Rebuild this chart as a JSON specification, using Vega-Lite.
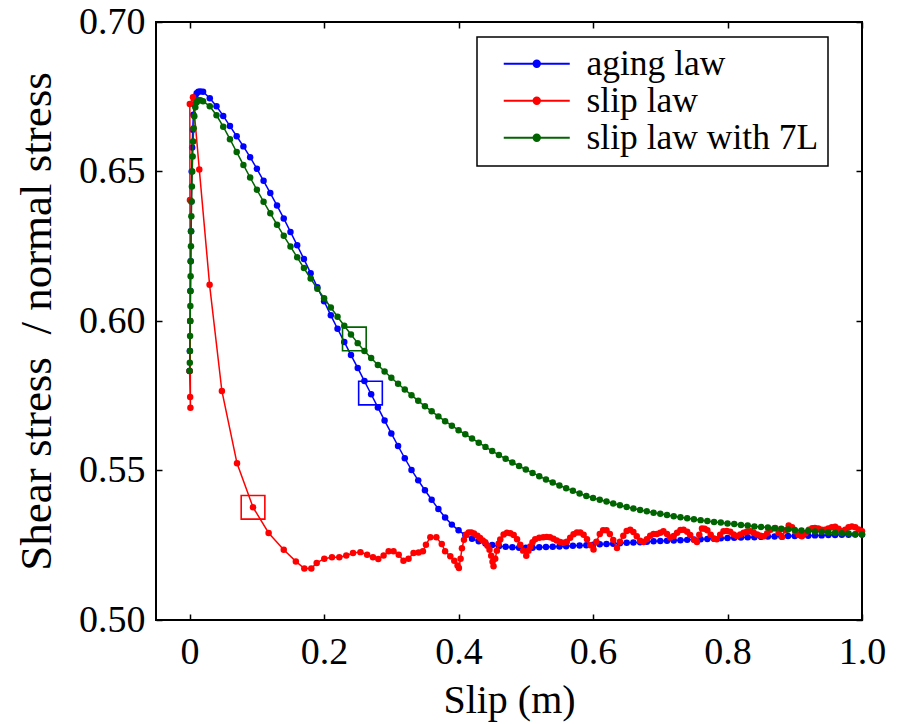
{
  "$schema": "https://vega.github.io/schema/vega-lite/v6.json",
  "autosize": {"type": "none"},
  "width": 706,
  "height": 598,
  "padding": {"left": 156, "top": 22, "right": 40, "bottom": 104},
  "background": "white",
  "datasets": {
    "aging": [
      {"x":0,"y":0.5833},{"x":0.0004,"y":0.59},{"x":0.0008,"y":0.6},{"x":0.0012,"y":0.61},{"x":0.0016,"y":0.62},{"x":0.002,"y":0.63},{"x":0.0025,"y":0.64},{"x":0.0031,"y":0.65},{"x":0.0038,"y":0.658},{"x":0.0046,"y":0.664},{"x":0.0056,"y":0.669},{"x":0.0068,"y":0.6725},{"x":0.0085,"y":0.675},{"x":0.0105,"y":0.6762},{"x":0.013,"y":0.6767},{"x":0.016,"y":0.6768},
      {"x":0.02,"y":0.6767},{"x":0.03,"y":0.6745},{"x":0.04,"y":0.6718},{"x":0.05,"y":0.6686},{"x":0.06,"y":0.6652},{"x":0.07,"y":0.6618},{"x":0.08,"y":0.6584},{"x":0.09,"y":0.6548},{"x":0.1,"y":0.6509},
      {"x":0.11,"y":0.6469},{"x":0.12,"y":0.6428},{"x":0.13,"y":0.6386},{"x":0.14,"y":0.6343},{"x":0.15,"y":0.6298},{"x":0.16,"y":0.6253},{"x":0.17,"y":0.6207},{"x":0.18,"y":0.616},{"x":0.19,"y":0.6113},{"x":0.2,"y":0.6066},
      {"x":0.21,"y":0.6019},{"x":0.22,"y":0.5974},{"x":0.23,"y":0.593},{"x":0.24,"y":0.5886},{"x":0.25,"y":0.5843},{"x":0.26,"y":0.5799},{"x":0.27,"y":0.5755},{"x":0.28,"y":0.5711},{"x":0.29,"y":0.5667},{"x":0.3,"y":0.5624},
      {"x":0.31,"y":0.5582},{"x":0.32,"y":0.5541},{"x":0.33,"y":0.5502},{"x":0.34,"y":0.5467},{"x":0.35,"y":0.5434},{"x":0.36,"y":0.5402},{"x":0.37,"y":0.5371},{"x":0.38,"y":0.5343},{"x":0.39,"y":0.5319},{"x":0.4,"y":0.53},
      {"x":0.41,"y":0.5284},{"x":0.42,"y":0.5272},{"x":0.43,"y":0.5263},{"x":0.44,"y":0.5256},{"x":0.45,"y":0.5251},{"x":0.46,"y":0.5247},{"x":0.47,"y":0.5245},{"x":0.48,"y":0.5243},{"x":0.49,"y":0.5242},{"x":0.5,"y":0.5242},
      {"x":0.51,"y":0.5242},{"x":0.52,"y":0.5243},{"x":0.53,"y":0.5244},{"x":0.54,"y":0.5245},{"x":0.55,"y":0.5246},{"x":0.56,"y":0.5247},{"x":0.57,"y":0.5248},{"x":0.58,"y":0.5249},{"x":0.59,"y":0.525},{"x":0.6,"y":0.5252},
      {"x":0.61,"y":0.5253},{"x":0.62,"y":0.5254},{"x":0.63,"y":0.5255},{"x":0.64,"y":0.5257},{"x":0.65,"y":0.5258},{"x":0.66,"y":0.5259},{"x":0.67,"y":0.526},{"x":0.68,"y":0.5262},{"x":0.69,"y":0.5263},{"x":0.7,"y":0.5264},
      {"x":0.71,"y":0.5265},{"x":0.72,"y":0.5266},{"x":0.73,"y":0.5267},{"x":0.74,"y":0.5268},{"x":0.75,"y":0.5269},{"x":0.76,"y":0.527},{"x":0.77,"y":0.5271},{"x":0.78,"y":0.5272},{"x":0.79,"y":0.5273},{"x":0.8,"y":0.5274},
      {"x":0.81,"y":0.5275},{"x":0.82,"y":0.5276},{"x":0.83,"y":0.5277},{"x":0.84,"y":0.5277},{"x":0.85,"y":0.5278},{"x":0.86,"y":0.5279},{"x":0.87,"y":0.5279},{"x":0.88,"y":0.528},{"x":0.89,"y":0.5281},{"x":0.9,"y":0.5281},
      {"x":0.91,"y":0.5282},{"x":0.92,"y":0.5282},{"x":0.93,"y":0.5283},{"x":0.94,"y":0.5283},{"x":0.95,"y":0.5284},{"x":0.96,"y":0.5284},{"x":0.97,"y":0.5285},{"x":0.98,"y":0.5285},{"x":0.99,"y":0.5286},{"x":1,"y":0.5286}
    ],
    "slip": [
      {"x":0,"y":0.5833},{"x":0.0008,"y":0.5746},{"x":0.0012,"y":0.571},{"x":0.0008,"y":0.6},{"x":0.0005,"y":0.6405},{"x":0.0003,"y":0.6726},{"x":0.005,"y":0.6748},{"x":0.0144,"y":0.6507},{"x":0.0297,"y":0.6121},{"x":0.048,"y":0.5766},{"x":0.0705,"y":0.5524},{"x":0.0943,"y":0.5377},
      {"x":0.1175,"y":0.5291},{"x":0.14,"y":0.5235},{"x":0.158,"y":0.5196},{"x":0.1706,"y":0.5172},{"x":0.181,"y":0.5172},{"x":0.189,"y":0.5191},{"x":0.2003,"y":0.5205},{"x":0.2117,"y":0.521},{"x":0.2226,"y":0.521},{"x":0.233,"y":0.5216},
      {"x":0.243,"y":0.5224},{"x":0.254,"y":0.5227},{"x":0.264,"y":0.5218},{"x":0.2727,"y":0.521},{"x":0.2806,"y":0.5204},{"x":0.2885,"y":0.5216},{"x":0.296,"y":0.523},{"x":0.3033,"y":0.523},{"x":0.311,"y":0.5218},{"x":0.318,"y":0.5198},
      {"x":0.3256,"y":0.5205},{"x":0.333,"y":0.5224},{"x":0.3405,"y":0.5226},{"x":0.347,"y":0.523},{"x":0.3515,"y":0.5252},{"x":0.358,"y":0.5277},{"x":0.367,"y":0.5277},{"x":0.375,"y":0.5254},{"x":0.38,"y":0.523},{"x":0.3877,"y":0.5213},
      {"x":0.3936,"y":0.5198},{"x":0.3985,"y":0.5182},{"x":0.4005,"y":0.5174},{"x":0.403,"y":0.5205},{"x":0.405,"y":0.524},{"x":0.408,"y":0.5268},{"x":0.411,"y":0.5285},{"x":0.415,"y":0.5293},{"x":0.419,"y":0.5293},{"x":0.423,"y":0.5289},
      {"x":0.428,"y":0.5282},{"x":0.432,"y":0.5274},{"x":0.436,"y":0.5266},{"x":0.4396,"y":0.526},{"x":0.443,"y":0.5248},{"x":0.446,"y":0.5235},{"x":0.4485,"y":0.5215},{"x":0.4505,"y":0.5195},{"x":0.452,"y":0.518},{"x":0.4545,"y":0.5205},
      {"x":0.457,"y":0.5232},{"x":0.4595,"y":0.5255},{"x":0.462,"y":0.5269},{"x":0.467,"y":0.5286},{"x":0.472,"y":0.5292},{"x":0.477,"y":0.529},{"x":0.482,"y":0.5284},{"x":0.487,"y":0.527},{"x":0.4917,"y":0.5252},{"x":0.496,"y":0.5232},
      {"x":0.5007,"y":0.5215},{"x":0.504,"y":0.5232},{"x":0.5066,"y":0.5246},{"x":0.51,"y":0.526},{"x":0.514,"y":0.527},{"x":0.52,"y":0.5275},{"x":0.526,"y":0.5277},{"x":0.531,"y":0.5278},{"x":0.536,"y":0.5277},{"x":0.541,"y":0.5272},
      {"x":0.546,"y":0.5266},{"x":0.551,"y":0.5261},{"x":0.556,"y":0.5258},{"x":0.561,"y":0.5262},{"x":0.566,"y":0.5275},{"x":0.571,"y":0.5287},{"x":0.576,"y":0.5293},{"x":0.581,"y":0.5293},{"x":0.586,"y":0.5285},{"x":0.591,"y":0.527},
      {"x":0.596,"y":0.525},{"x":0.6007,"y":0.5236},{"x":0.605,"y":0.5262},{"x":0.61,"y":0.5288},{"x":0.615,"y":0.53},{"x":0.62,"y":0.53},{"x":0.625,"y":0.5288},{"x":0.63,"y":0.5268},{"x":0.6356,"y":0.5241},{"x":0.64,"y":0.5262},
      {"x":0.645,"y":0.5282},{"x":0.65,"y":0.5298},{"x":0.6553,"y":0.5302},{"x":0.66,"y":0.5294},{"x":0.665,"y":0.528},{"x":0.67,"y":0.5265},{"x":0.675,"y":0.5261},{"x":0.68,"y":0.527},{"x":0.685,"y":0.5282},{"x":0.69,"y":0.5288},
      {"x":0.695,"y":0.5288},{"x":0.7,"y":0.5292},{"x":0.7047,"y":0.5297},{"x":0.71,"y":0.5288},{"x":0.7148,"y":0.5276},{"x":0.72,"y":0.5281},{"x":0.725,"y":0.5292},{"x":0.73,"y":0.5301},{"x":0.7346,"y":0.5302},{"x":0.74,"y":0.5295},
      {"x":0.7445,"y":0.5284},{"x":0.75,"y":0.5268},{"x":0.7545,"y":0.5261},{"x":0.758,"y":0.5285},{"x":0.762,"y":0.5306},{"x":0.766,"y":0.5305},{"x":0.77,"y":0.53},{"x":0.775,"y":0.5285},{"x":0.78,"y":0.5272},{"x":0.784,"y":0.527},
      {"x":0.789,"y":0.5285},{"x":0.794,"y":0.5297},{"x":0.799,"y":0.5298},{"x":0.804,"y":0.5295},{"x":0.809,"y":0.5286},{"x":0.814,"y":0.5281},{"x":0.819,"y":0.5286},{"x":0.824,"y":0.5292},{"x":0.829,"y":0.5296},{"x":0.834,"y":0.5297},
      {"x":0.839,"y":0.5292},{"x":0.844,"y":0.5286},{"x":0.849,"y":0.5282},{"x":0.854,"y":0.528},{"x":0.859,"y":0.529},{"x":0.864,"y":0.5302},{"x":0.871,"y":0.5308},{"x":0.876,"y":0.5292},{"x":0.881,"y":0.5278},{"x":0.886,"y":0.53},
      {"x":0.891,"y":0.5316},{"x":0.896,"y":0.531},{"x":0.901,"y":0.5296},{"x":0.906,"y":0.5284},{"x":0.9106,"y":0.528},{"x":0.916,"y":0.529},{"x":0.921,"y":0.5302},{"x":0.926,"y":0.5307},{"x":0.93,"y":0.5308},{"x":0.935,"y":0.5306},
      {"x":0.94,"y":0.5302},{"x":0.945,"y":0.5302},{"x":0.95,"y":0.5306},{"x":0.955,"y":0.531},{"x":0.96,"y":0.5312},{"x":0.965,"y":0.5305},{"x":0.97,"y":0.5297},{"x":0.975,"y":0.5302},{"x":0.98,"y":0.531},{"x":0.985,"y":0.5313},
      {"x":0.99,"y":0.531},{"x":0.995,"y":0.5303},{"x":1,"y":0.5297}
    ],
    "slip7L": [
      {"x":0,"y":0.5833},{"x":0.0003,"y":0.586},{"x":0.0005,"y":0.59},{"x":0.0007,"y":0.595},{"x":0.0009,"y":0.6},{"x":0.0011,"y":0.605},{"x":0.0013,"y":0.61},{"x":0.0015,"y":0.615},{"x":0.0017,"y":0.62},{"x":0.002,"y":0.625},{"x":0.0023,"y":0.63},{"x":0.0026,"y":0.635},
      {"x":0.003,"y":0.64},{"x":0.0034,"y":0.645},{"x":0.0039,"y":0.65},{"x":0.0045,"y":0.655},{"x":0.0052,"y":0.66},{"x":0.006,"y":0.6645},{"x":0.007,"y":0.6685},{"x":0.0085,"y":0.6715},{"x":0.0105,"y":0.6732},{"x":0.013,"y":0.6738},{"x":0.016,"y":0.6738},
      {"x":0.02,"y":0.6735},{"x":0.03,"y":0.6718},{"x":0.04,"y":0.6688},{"x":0.05,"y":0.665},{"x":0.06,"y":0.6608},{"x":0.07,"y":0.6565},{"x":0.08,"y":0.6522},{"x":0.09,"y":0.648},{"x":0.1,"y":0.6439},
      {"x":0.11,"y":0.6399},{"x":0.12,"y":0.636},{"x":0.13,"y":0.6322},{"x":0.14,"y":0.6285},{"x":0.15,"y":0.6249},{"x":0.16,"y":0.6213},{"x":0.17,"y":0.6177},{"x":0.18,"y":0.6142},{"x":0.19,"y":0.6108},{"x":0.2,"y":0.6076},
      {"x":0.21,"y":0.6045},{"x":0.22,"y":0.6014},{"x":0.23,"y":0.5984},{"x":0.24,"y":0.5955},{"x":0.25,"y":0.5926},{"x":0.26,"y":0.59},{"x":0.27,"y":0.5876},{"x":0.28,"y":0.5853},{"x":0.29,"y":0.5831},{"x":0.3,"y":0.581},
      {"x":0.31,"y":0.579},{"x":0.32,"y":0.5771},{"x":0.33,"y":0.5752},{"x":0.34,"y":0.5733},{"x":0.35,"y":0.5715},{"x":0.36,"y":0.5698},{"x":0.37,"y":0.5681},{"x":0.38,"y":0.5665},{"x":0.39,"y":0.565},{"x":0.4,"y":0.5635},
      {"x":0.41,"y":0.5621},{"x":0.42,"y":0.5607},{"x":0.43,"y":0.5593},{"x":0.44,"y":0.5579},{"x":0.45,"y":0.5565},{"x":0.46,"y":0.5552},{"x":0.47,"y":0.5539},{"x":0.48,"y":0.5527},{"x":0.49,"y":0.5515},{"x":0.5,"y":0.5503},
      {"x":0.51,"y":0.5492},{"x":0.52,"y":0.5481},{"x":0.53,"y":0.547},{"x":0.54,"y":0.546},{"x":0.55,"y":0.545},{"x":0.56,"y":0.5441},{"x":0.57,"y":0.5432},{"x":0.58,"y":0.5423},{"x":0.59,"y":0.5415},{"x":0.6,"y":0.5408},
      {"x":0.61,"y":0.5402},{"x":0.62,"y":0.5396},{"x":0.63,"y":0.539},{"x":0.64,"y":0.5384},{"x":0.65,"y":0.5378},{"x":0.66,"y":0.5373},{"x":0.67,"y":0.5368},{"x":0.68,"y":0.5364},{"x":0.69,"y":0.5359},{"x":0.7,"y":0.5355},
      {"x":0.71,"y":0.5351},{"x":0.72,"y":0.5347},{"x":0.73,"y":0.5344},{"x":0.74,"y":0.534},{"x":0.75,"y":0.5337},{"x":0.76,"y":0.5334},{"x":0.77,"y":0.5331},{"x":0.78,"y":0.5328},{"x":0.79,"y":0.5326},{"x":0.8,"y":0.5323},
      {"x":0.81,"y":0.5321},{"x":0.82,"y":0.5318},{"x":0.83,"y":0.5316},{"x":0.84,"y":0.5313},{"x":0.85,"y":0.5311},{"x":0.86,"y":0.5309},{"x":0.87,"y":0.5307},{"x":0.88,"y":0.5305},{"x":0.89,"y":0.5303},{"x":0.9,"y":0.5301},
      {"x":0.91,"y":0.5299},{"x":0.92,"y":0.5298},{"x":0.93,"y":0.5296},{"x":0.94,"y":0.5295},{"x":0.95,"y":0.5293},{"x":0.96,"y":0.5292},{"x":0.97,"y":0.529},{"x":0.98,"y":0.5289},{"x":0.99,"y":0.5287},{"x":1,"y":0.5286}
    ],
    "boxes": [
      {"law":"slip law","x":0.0943,"y":0.5377},
      {"law":"aging law","x":0.269,"y":0.5759},
      {"law":"slip law with 7L","x":0.245,"y":0.594}
    ]
  },
  "encoding": {
    "x": {"field": "x", "type": "quantitative", "scale": {"domain": [-0.05, 1.0], "nice": false, "zero": false}, "axis": null},
    "y": {"field": "y", "type": "quantitative", "scale": {"domain": [0.5, 0.7], "nice": false, "zero": false}, "axis": null}
  },
  "layer": [
    {
      "data": {"name": "aging"},
      "mark": {"type": "line", "strokeWidth": 1.5},
      "encoding": {
        "x": {"field": "x", "type": "quantitative", "axis": {
          "orient": "bottom", "values": [0, 0.2, 0.4, 0.6, 0.8, 1],
          "labelExpr": "datum.value == 0 ? '0' : format(datum.value, '.1f')",
          "tickSize": -6, "labelBaseline": "alphabetic", "labelPadding": 49, "labelFlush": false, "labelOverlap": false,
          "title": "Slip (m)", "titleX": 353, "titleY": 92, "titleBaseline": "alphabetic", "titleAlign": "center", "titleAnchor": null
        }},
        "y": {"field": "y", "type": "quantitative", "axis": {
          "orient": "left", "values": [0.5, 0.55, 0.6, 0.65, 0.7], "format": ".2f",
          "tickSize": -6, "labelPadding": 17, "labelBaseline": "middle", "labelFlush": false, "labelOverlap": false,
          "title": "Shear stress\u2002/ normal stress", "titleFontSize": 45, "titleX": -120, "titleY": 299, "titleAngle": -90, "titleBaseline": "middle", "titleAlign": "center", "titleAnchor": null
        }},
        "color": {
          "datum": "aging law",
          "scale": {"domain": ["aging law", "slip law", "slip law with 7L"], "range": ["#0000ff", "#ff0000", "#006400"]},
          "legend": {
            "title": null, "orient": "none", "legendX": 321, "legendY": 15,
            "symbolType": "M-3.3,0H3.3M0.33,0A0.33,0.33 0 1,1 -0.33,0A0.33,0.33 0 1,1 0.33,0Z",
            "symbolSize": 400, "symbolStrokeWidth": 1.8, "symbolOffset": 33,
            "labelFont": "Liberation Serif", "labelFontSize": 35.5, "labelColor": "#000", "labelOffset": 32, "labelLimit": 500,
            "padding": 9, "rowPadding": -3, "strokeColor": "#000", "fillColor": "#fff",
            "encode": {
              "legend": {"update": {"strokeWidth": {"value": 1.5}}},
              "symbols": {"update": {
                "fill": {"scale": "color", "field": "value"},
                "stroke": {"scale": "color", "field": "value"},
                "opacity": {"value": 1}
              }}
            }
          }
        },
        "order": {"value": null}
      }
    },
    {
      "data": {"name": "aging"},
      "mark": {"type": "point", "filled": true, "size": 42, "opacity": 1},
      "encoding": {"color": {"datum": "aging law"}}
    },
    {
      "data": {"name": "slip"},
      "mark": {"type": "line", "strokeWidth": 1.5},
      "encoding": {"color": {"datum": "slip law"}, "order": {"value": null}}
    },
    {
      "data": {"name": "slip"},
      "mark": {"type": "point", "filled": true, "size": 42, "opacity": 1},
      "encoding": {"color": {"datum": "slip law"}}
    },
    {
      "data": {"name": "slip7L"},
      "mark": {"type": "line", "strokeWidth": 1.5},
      "encoding": {"color": {"datum": "slip law with 7L"}, "order": {"value": null}}
    },
    {
      "data": {"name": "slip7L"},
      "mark": {"type": "point", "filled": true, "size": 42, "opacity": 1},
      "encoding": {"color": {"datum": "slip law with 7L"}}
    },
    {
      "data": {"name": "boxes"},
      "transform": [{"filter": "datum.law == 'slip law'"}],
      "mark": {"type": "point", "shape": "square", "filled": false, "size": 560, "strokeWidth": 1.6, "color": "#ff0000", "opacity": 1}
    },
    {
      "data": {"name": "boxes"},
      "transform": [{"filter": "datum.law == 'aging law'"}],
      "mark": {"type": "point", "shape": "square", "filled": false, "size": 560, "strokeWidth": 1.6, "color": "#0000ff", "opacity": 1}
    },
    {
      "data": {"name": "boxes"},
      "transform": [{"filter": "datum.law == 'slip law with 7L'"}],
      "mark": {"type": "point", "shape": "square", "filled": false, "size": 560, "strokeWidth": 1.6, "color": "#006400", "opacity": 1},
      "encoding": {
        "x": {"field": "x", "type": "quantitative", "axis": {"orient": "top", "values": [0, 0.2, 0.4, 0.6, 0.8, 1], "labels": false, "tickSize": -6, "title": null}},
        "y": {"field": "y", "type": "quantitative", "axis": {"orient": "right", "values": [0.5, 0.55, 0.6, 0.65, 0.7], "labels": false, "tickSize": -6, "title": null}}
      }
    }
  ],
  "resolve": {"axis": {"x": "independent", "y": "independent"}},
  "config": {
    "font": "Liberation Serif",
    "view": {"stroke": "#000", "strokeWidth": 2},
    "axis": {
      "domain": false, "grid": false, "ticks": true, "tickColor": "#000", "tickWidth": 1.5,
      "labelFont": "Liberation Serif", "labelFontSize": 38, "labelColor": "#000",
      "titleFont": "Liberation Serif", "titleFontSize": 40, "titleFontWeight": "normal", "titleColor": "#000"
    }
  }
}
